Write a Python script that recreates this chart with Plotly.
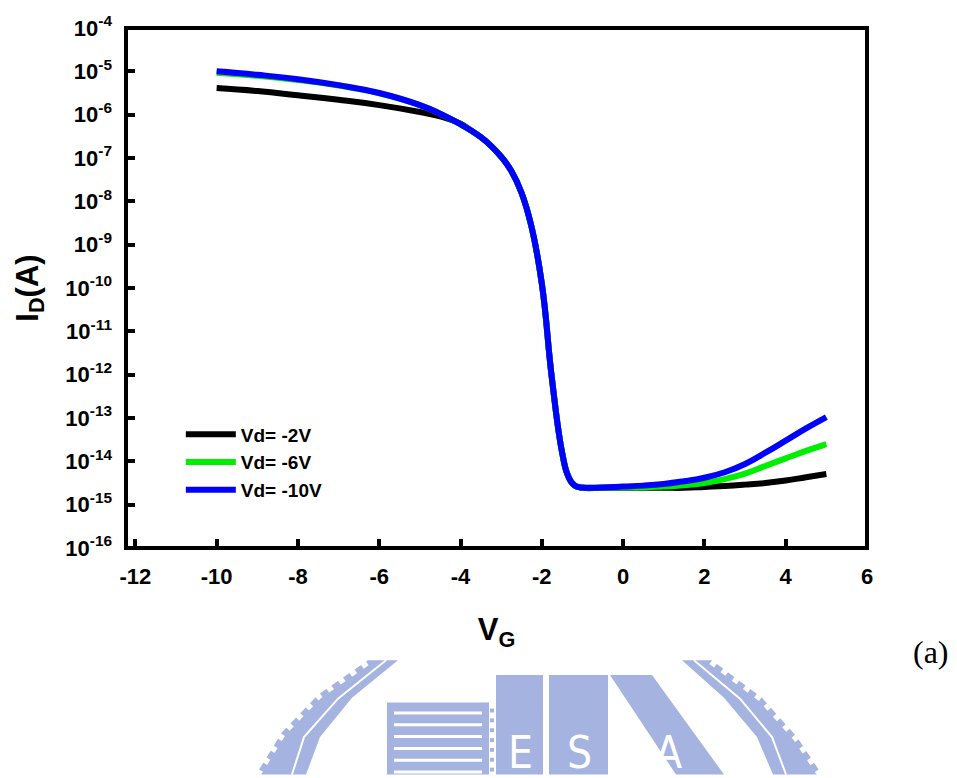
import plotly.graph_objects as go

# Gate voltage sweep (V)
vg = [-10, -9, -8, -7, -6, -5, -4.5, -4, -3.75, -3.5, -3.25, -3, -2.75, -2.5,
      -2.25, -2, -1.75, -1.5, -1.35, -1.2, -1, -0.5, 0, 0.5, 1, 1.5, 2, 2.5,
      3, 3.5, 4, 4.5, 5]

# Drain current (A) for each drain bias
id_vd2 = [4.1e-6, 3.5e-6, 2.8e-6, 2.2e-6, 1.66e-6, 1.15e-6, 9.1e-7, 6.2e-7,
          4.37e-7, 3.02e-7, 1.91e-7, 1.07e-7, 5.0e-8, 1.58e-8, 2.5e-9, 1.26e-10,
          7.9e-13, 1.58e-14, 4.5e-15, 2.8e-15, 2.45e-15, 2.45e-15, 2.45e-15,
          2.45e-15, 2.45e-15, 2.45e-15, 2.57e-15, 2.7e-15, 2.9e-15, 3.16e-15,
          3.6e-15, 4.3e-15, 5.1e-15]
id_vd6 = [9.3e-6, 7.9e-6, 6.3e-6, 4.7e-6, 3.1e-6, 1.66e-6, 1.05e-6, 6.0e-7,
          4.37e-7, 3.02e-7, 1.91e-7, 1.07e-7, 5.0e-8, 1.58e-8, 2.5e-9, 1.26e-10,
          7.9e-13, 1.58e-14, 4.5e-15, 2.8e-15, 2.5e-15, 2.5e-15, 2.5e-15,
          2.5e-15, 2.63e-15, 2.8e-15, 3.16e-15, 3.9e-15, 5.2e-15, 7.8e-15,
          1.17e-14, 1.74e-14, 2.5e-14]
id_vd10 = [1.0e-5, 8.3e-6, 6.6e-6, 4.8e-6, 3.16e-6, 1.66e-6, 1.05e-6, 6.0e-7,
           4.37e-7, 3.02e-7, 1.91e-7, 1.07e-7, 5.0e-8, 1.58e-8, 2.5e-9, 1.26e-10,
           7.9e-13, 1.58e-14, 4.5e-15, 2.8e-15, 2.5e-15, 2.5e-15, 2.63e-15,
           2.75e-15, 3.0e-15, 3.47e-15, 4.17e-15, 5.6e-15, 8.7e-15, 1.58e-14,
           3.0e-14, 5.75e-14, 1.05e-13]

series_names = ["Vd= -2V", "Vd= -6V", "Vd= -10V"]
series_colors = ["#000000", "#00EE00", "#0000FF"]

x_ticks = [-12, -10, -8, -6, -4, -2, 0, 2, 4, 6]
x_ticktext = ["-12", "-10", "-8", "-6", "-4", "-2", "0", "2", "4", "6"]
y_exponents = list(range(-16, -3))
y_ticks = [10.0 ** e for e in y_exponents]
y_ticktext = ["10<sup>%d</sup>" % e for e in y_exponents]

FONT = "Liberation Sans, Arial, sans-serif"
W, H = 957, 778
M_L, M_R, M_T, M_B = 126, 90, 20, 230
PW, PH = W - M_L - M_R, H - M_T - M_B

fig = go.Figure()
for name, color, ys in zip(series_names, series_colors, [id_vd2, id_vd6, id_vd10]):
    fig.add_trace(go.Scatter(
        x=vg, y=ys, mode="lines", name=name,
        line=dict(color=color, width=6, shape="spline", smoothing=1.3),
    ))

axis_common = dict(
    showgrid=False, zeroline=False, showline=False,
    ticks="inside", ticklen=9, tickwidth=4, tickcolor="black",
    tickfont=dict(family=FONT, size=22, color="black", weight="bold"),
)

fig.update_xaxes(
    range=[-12.23, 6.0], tickvals=x_ticks, ticktext=x_ticktext,
    title=dict(text="V<sub>G</sub>", standoff=30,
               font=dict(family=FONT, size=31, color="black", weight="bold")),
    ticklabelstandoff=13,
    **axis_common,
)
fig.update_yaxes(
    type="log", range=[-16, -4], tickvals=y_ticks, ticktext=y_ticktext,
    title=dict(text="I<sub>D</sub>(A)", standoff=17,
               font=dict(family=FONT, size=31, color="black", weight="bold")),
    ticklabelstandoff=13,
    **axis_common,
)

# Plot frame
fig.add_shape(type="rect", xref="paper", yref="paper", x0=0, x1=1, y0=0, y1=1,
              line=dict(color="black", width=4), layer="above")


# ---- faint university emblem watermark under the figure ----
def px(x):
    return (x - M_L) / PW


def py(y):
    return (M_T + PH - y) / PH


def poly(points, close=True):
    d = "M " + " L ".join("%.5f,%.5f" % (px(a), py(b)) for a, b in points)
    if close:
        d += " Z"
    return d


MARK = "#A5B3E1"

# outer ring segments (left and right)
left_ring = [(256, 778), (282, 735), (318, 697), (368, 662), (398, 662),
             (352, 700), (320, 740), (306, 778)]
right_ring = [(712, 662), (762, 700), (797, 740), (822, 778), (773, 778),
              (757, 740), (724, 700), (682, 662)]
for ring in (left_ring, right_ring):
    fig.add_shape(type="path", xref="paper", yref="paper", path=poly(ring),
                  fillcolor=MARK, line=dict(width=0), layer="below")
# notches on the outer edge and inner groove
for edge in ([(256, 778), (282, 735), (318, 697), (368, 662)],
             [(712, 662), (762, 700), (797, 740), (822, 778)]):
    fig.add_shape(type="path", xref="paper", yref="paper",
                  path=poly(edge, close=False),
                  line=dict(color="white", width=9, dash="6px,8px"), layer="below")
for groove in ([(292, 778), (304, 740), (338, 701), (386, 662)],
               [(694, 662), (740, 701), (772, 740), (786, 778)]):
    fig.add_shape(type="path", xref="paper", yref="paper",
                  path=poly(groove, close=False),
                  line=dict(color="white", width=2), layer="below")

# striped building block
fig.add_shape(type="rect", xref="paper", yref="paper", x0=px(387), x1=px(489),
              y0=py(778), y1=py(705), fillcolor=MARK, line=dict(width=0), layer="below")
for yy in (714, 726, 738, 750, 762, 774):
    fig.add_shape(type="rect", xref="paper", yref="paper", x0=px(394), x1=px(482),
                  y0=py(yy + 3), y1=py(yy), fillcolor="white", line=dict(width=0),
                  layer="below")
for yy in (711, 721, 731, 741, 751, 761, 771):
    fig.add_shape(type="rect", xref="paper", yref="paper", x0=px(490), x1=px(494),
                  y0=py(yy + 4), y1=py(yy), fillcolor=MARK, line=dict(width=0),
                  layer="below")

# letter blocks
for x0, x1 in ((496, 543), (549, 608)):
    fig.add_shape(type="rect", xref="paper", yref="paper", x0=px(x0), x1=px(x1),
                  y0=py(778), y1=py(677), fillcolor=MARK, line=dict(width=0),
                  layer="below")
fig.add_shape(type="path", xref="paper", yref="paper",
              path=poly([(610, 677), (652, 677), (724, 778), (676, 778)]),
              fillcolor=MARK, line=dict(width=0), layer="below")
for letter, cx in (("E", 520), ("S", 579), ("A", 668)):
    fig.add_annotation(text=letter, xref="paper", yref="paper", x=px(cx), y=py(756),
                       xanchor="center", yanchor="middle", showarrow=False,
                       font=dict(family="DejaVu Sans Condensed, DejaVu Sans, sans-serif",
                                 size=44, color="white"))

fig.add_annotation(text="(a)", xref="paper", yref="paper",
                   x=px(931), y=py(654),
                   xanchor="center", yanchor="middle", showarrow=False,
                   font=dict(family="Liberation Serif, Times New Roman, serif",
                             size=32, color="black"))

fig.update_layout(
    width=W, height=H,
    margin=dict(l=M_L, r=M_R, t=M_T, b=M_B),
    paper_bgcolor="white", plot_bgcolor="white",
    showlegend=True,
    legend=dict(x=0.074, y=0.255, xanchor="left", yanchor="top",
                itemwidth=50, bgcolor="rgba(0,0,0,0)",
                font=dict(family=FONT, size=19, color="black", weight="bold")),
)

fig.write_html("out.html")
